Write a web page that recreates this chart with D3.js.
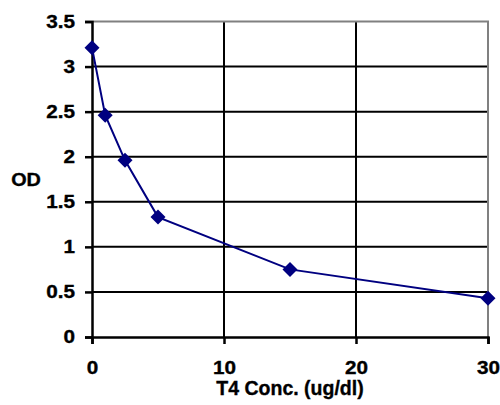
<!DOCTYPE html>
<html>
<head>
<meta charset="utf-8">
<script src="https://cdn.jsdelivr.net/npm/d3@7"></script>
<style>
	body { margin: 0; background: #fff; }
	text { font-family: Arial, "Liberation Sans", sans-serif; font-weight: bold; stroke: #000; stroke-width: 0.35px; }
</style>
</head>
<body>
<svg id="chart" width="500" height="405"></svg>
<script>
"use strict";

// T4 standard curve
var conc = [0, 1, 2.5, 5, 15, 30];
var od = [3.21, 2.46, 1.96, 1.33, 0.75, 0.43];
var x_ticks = [0, 10, 20, 30];
var y_ticks = [0, 0.5, 1, 1.5, 2, 2.5, 3, 3.5];

var plot_left = 92, plot_right = 488, plot_top = 21.5, plot_bottom = 337;
var font_stretch = 1.15;

var svg = d3.select("#chart");

var x = d3.scaleLinear().domain([0, 30]).range([plot_left, plot_right]);
var y = d3.scaleLinear().domain([0, 3.5]).range([plot_bottom, plot_top]);

//gridlines
svg.append("g").selectAll("line")
	.data(y_ticks.filter(function(d) { return d > 0 && d < 3.5; }))
	.enter().append("line")
		.attr("x1", plot_left).attr("x2", plot_right)
		.attr("y1", function(d) { return y(d); })
		.attr("y2", function(d) { return y(d); })
		.attr("stroke", "#000").attr("stroke-width", 2);

svg.append("g").selectAll("line")
	.data(x_ticks.filter(function(d) { return d > 0 && d < 30; }))
	.enter().append("line")
		.attr("y1", plot_top).attr("y2", plot_bottom)
		.attr("x1", function(d) { return x(d); })
		.attr("x2", function(d) { return x(d); })
		.attr("stroke", "#000").attr("stroke-width", 2);

//gray frame top and right
svg.append("path")
	.attr("d", "M" + plot_left + "," + plot_top + "H" + plot_right + "V" + plot_bottom)
	.attr("fill", "none")
	.attr("stroke", "#808080")
	.attr("stroke-width", 2);

//axes
var yAxis = svg.append("g")
	.attr("transform", "translate(" + plot_left + ",0)")
	.call(d3.axisLeft(y).tickValues(y_ticks).tickSize(7).tickPadding(0)
		.tickFormat(function(d) { return d; }));

var xAxis = svg.append("g")
	.attr("transform", "translate(0," + plot_bottom + ")")
	.call(d3.axisBottom(x).tickValues(x_ticks).tickSize(7).tickPadding(17.5)
		.tickFormat(function(d) { return d; }));

[xAxis, yAxis].forEach(function(a) {
	a.select(".domain").attr("stroke", "#000").attr("stroke-width", 2.5);
	a.selectAll(".tick line").attr("stroke", "#000").attr("stroke-width", 2.5);
	a.selectAll(".tick text")
		.attr("fill", "#000")
		.style("font-size", "18px")
		.style("font-family", "Arial, 'Liberation Sans', sans-serif")
		.style("font-weight", "bold");
});

//stretch tick labels sideways like the original
xAxis.selectAll(".tick text").attr("transform", "scale(" + font_stretch + ",1)");
yAxis.selectAll(".tick text")
	.attr("x", 0)
	.attr("transform", "translate(-17,0) scale(" + font_stretch + ",1)");

//axis titles
svg.append("text")
	.attr("transform", "translate(26,185.5) scale(1.1,1)")
	.attr("text-anchor", "middle")
	.style("font-size", "18px")
	.text("OD");

svg.append("text")
	.attr("x", (plot_left + plot_right) / 2).attr("y", 395)
	.attr("text-anchor", "middle")
	.style("font-size", "19.5px")
	.text("T4 Conc. (ug/dl)");

//series line
var line = d3.line()
	.x(function(d, i) { return x(conc[i]); })
	.y(function(d) { return y(d); });

svg.append("path")
	.datum(od)
	.attr("d", line)
	.attr("fill", "none")
	.attr("stroke", "#000080")
	.attr("stroke-width", 2);

//diamond markers
svg.append("g").selectAll("path")
	.data(od)
	.enter().append("path")
		.attr("d", "M0,-7.5L7.5,0L0,7.5L-7.5,0Z")
		.attr("transform", function(d, i) { return "translate(" + x(conc[i]) + "," + y(d) + ")"; })
		.attr("fill", "#000080");
</script>
</body>
</html>
